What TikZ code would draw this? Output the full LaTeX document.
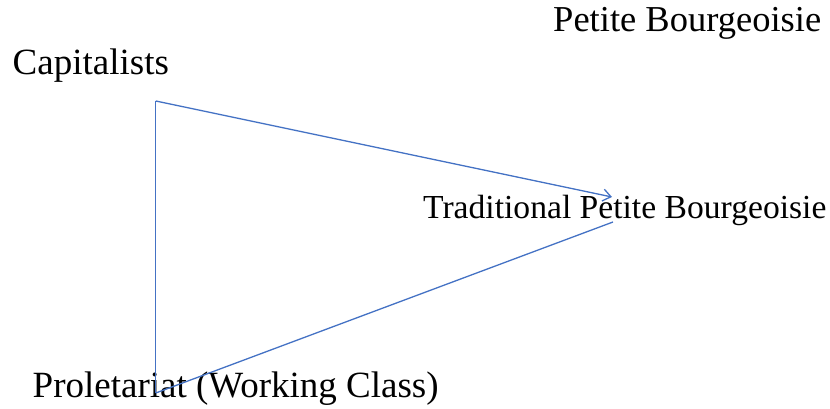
\documentclass[tikz,border=0pt]{standalone}
\usepackage{fontspec}
\setmainfont{Liberation Serif}
\usetikzlibrary{arrows.meta}
\definecolor{linkblue}{HTML}{4472C4}
\begin{document}
\begin{tikzpicture}[x=1pt,y=1pt,
  lbl/.style={anchor=base west,inner sep=0pt,font=\fontsize{37}{40}\selectfont},
  link/.style={draw=linkblue,line width=1.3pt}]
\clip (0,0) rectangle (830,409);
\node[lbl,font=\fontsize{36.5}{40}\selectfont] (pb) at (553,377.5) {Petite Bourgeoisie};
\node[lbl] (cap) at (12.5,334.5) {Capitalists};
\node[lbl,font=\fontsize{33.6}{40}\selectfont] (tpb) at (423,190.5) {Traditional Petite Bourgeoisie};
\node[lbl] (prol) at (32.5,11.5) {Proletariat (Working Class)};
\coordinate (ctop) at (155.8,308);
\coordinate (cbot) at (155.8,16);
\coordinate (tin) at (612,212);
\coordinate (tout) at (613,187);
\draw[link] (cbot) -- (ctop);
\draw[link,-{Straight Barb[length=8pt,width=12pt]}] (ctop) -- (tin);
\draw[link] (cbot) -- (tout);
\end{tikzpicture}
\end{document}
